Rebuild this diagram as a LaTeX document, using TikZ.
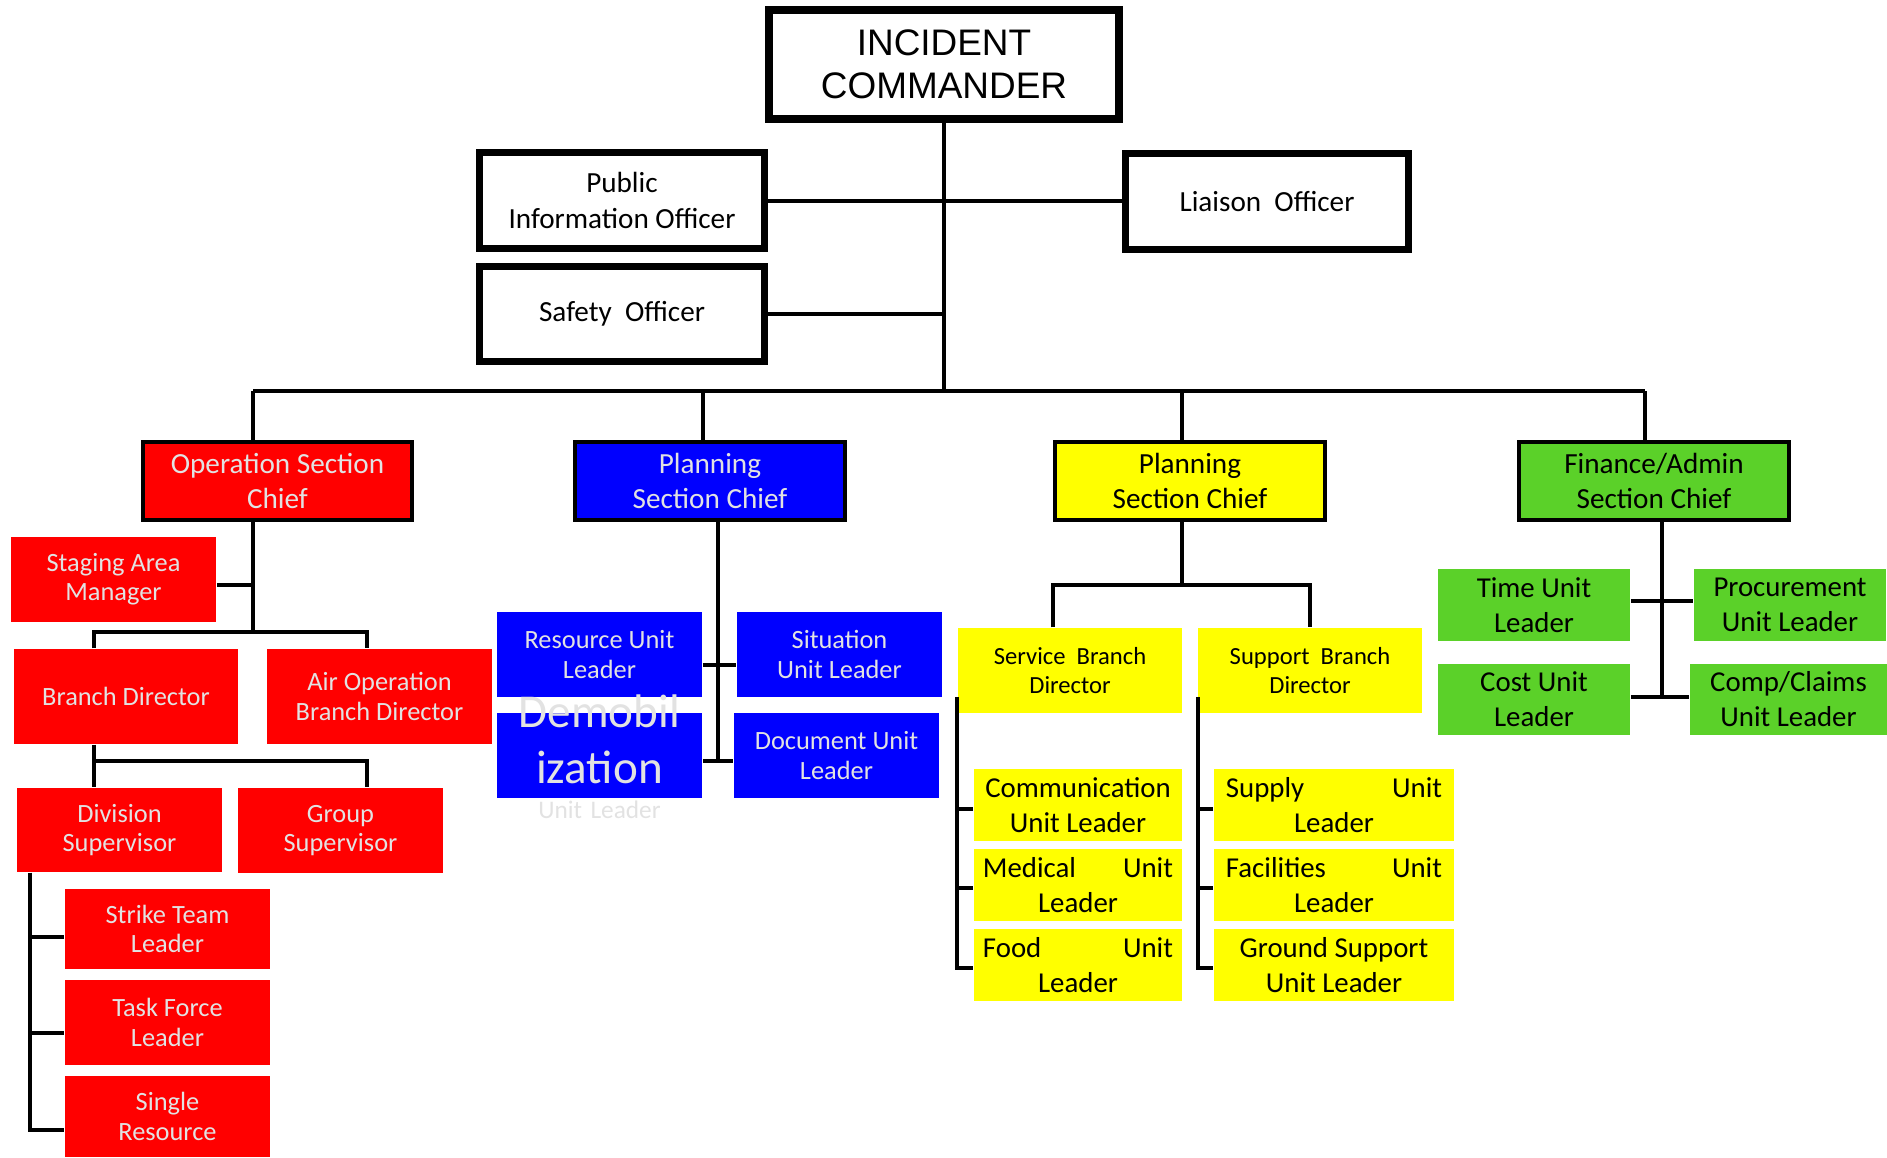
\documentclass[tikz,border=0pt]{standalone}
\usepackage{fontspec}
\setmainfont{Carlito}
\newfontfamily\arialfont{Liberation Sans}
\usetikzlibrary{positioning}

\definecolor{opsred}{RGB}{255,0,0}
\definecolor{planblue}{RGB}{0,0,255}
\definecolor{logyellow}{RGB}{255,255,0}
\definecolor{fingreen}{RGB}{91,209,41}
\definecolor{softgray}{RGB}{226,226,226}

\tikzset{
  officer/.style={draw, line width=0.07cm, inner sep=0pt, align=center, font=\fontsize{8.3}{10}\selectfont},
  chief/.style={draw, line width=0.04cm, minimum width=2.69cm, minimum height=0.78cm, inner sep=0pt, align=center, font=\fontsize{8.3}{10.1}\selectfont},
  unitbox/.style={inner sep=0pt, align=center, font=\fontsize{7.5}{8.3}\selectfont},
  redbox/.style={unitbox, fill=opsred, text=softgray},
  bluebox/.style={unitbox, fill=planblue, text=softgray},
  yellowbox/.style={unitbox, fill=logyellow, font=\fontsize{8.2}{10}\selectfont},
  greenbox/.style={unitbox, fill=fingreen, font=\fontsize{8.2}{10}\selectfont},
  wire/.style={line width=0.04cm},
}

\begin{document}
\begin{tikzpicture}[x=0.01cm, y=-0.01cm]
    \useasboundingbox (0,0) rectangle (1887,1157);

    % Command staff
    \node[draw, line width=0.08cm, minimum width=3.50cm, minimum height=1.09cm, align=center,
          font=\arialfont\fontsize{10.5}{12.2}\selectfont] (ic) at (944,64.5) {INCIDENT\\COMMANDER};
    \node[officer, minimum width=2.85cm, minimum height=0.96cm] (pio) at (622,200.5) {Public\\Information Officer};
    \node[officer, minimum width=2.83cm, minimum height=0.96cm] (liaison) at (1267,201.5) {Liaison\ \ Officer};
    \node[officer, minimum width=2.85cm, minimum height=0.95cm] (safety) at (622,314) {Safety\ \ Officer};

    % Section chiefs
    \node[chief, fill=opsred, text=softgray] (ops) at (277.5,481) {Operation Section\\Chief};
    \node[chief, fill=planblue, text=softgray] (plan) at (710,481) {Planning\\Section Chief};
    \node[chief, fill=logyellow] (logi) at (1190,481) {Planning\\Section Chief};
    \node[chief, fill=fingreen] (fin) at (1654,481) {Finance/Admin\\Section Chief};

    % Operations
    \node[redbox, minimum width=2.05cm, minimum height=0.85cm] (stage) at (113.5,579.5) {Staging Area\\Manager};
    \node[redbox, minimum width=2.24cm, minimum height=0.95cm] (branch) at (126,696.5) {Branch Director};
    \node[redbox, minimum width=2.25cm, minimum height=0.95cm] (air) at (379.5,696.5) {Air Operation\\Branch Director};
    \node[redbox, minimum width=2.05cm, minimum height=0.84cm] (div) at (119.5,830) {Division\\Supervisor};
    \node[redbox, minimum width=2.05cm, minimum height=0.85cm] (group) at (340.5,830.5) {Group\\Supervisor};
    \node[redbox, minimum width=2.05cm, minimum height=0.80cm] (strike) at (167.5,929) {Strike Team\\Leader};
    \node[redbox, minimum width=2.05cm, minimum height=0.85cm] (task) at (167.5,1022.5) {Task Force\\Leader};
    \node[redbox, minimum width=2.05cm, minimum height=0.81cm] (single) at (167.5,1116.5) {Single\\Resource};

    % Planning
    \node[bluebox, minimum width=2.05cm, minimum height=0.85cm] (res) at (599.5,654.5) {Resource Unit\\Leader};
    \node[bluebox, minimum width=2.05cm, minimum height=0.85cm, font=\fontsize{7.5}{8.7}\selectfont] (sit) at (839.5,654.5) {Situation\\Unit Leader};
    \node[bluebox, minimum width=2.05cm, minimum height=0.85cm] (demob) at (599.5,755.5) {};
    \node[bluebox, minimum width=2.05cm, minimum height=0.85cm] (doc) at (836.5,755.5) {Document Unit\\Leader};

    % Logistics
    \node[yellowbox, minimum width=2.24cm, minimum height=0.85cm, font=\fontsize{7}{8}\selectfont] (svc) at (1070,670.5) {Service\ \ Branch\\Director};
    \node[yellowbox, minimum width=2.24cm, minimum height=0.85cm, font=\fontsize{7}{8}\selectfont] (sup) at (1310,670.5) {Support\ \ Branch\\Director};
    \node[yellowbox, minimum width=2.08cm, minimum height=0.72cm] (comm) at (1078,805) {Communication\\Unit Leader};
    \node[yellowbox, minimum width=2.08cm, minimum height=0.72cm, text width=1.90cm] (med) at (1078,885) {Medical\hfill Unit\\Leader};
    \node[yellowbox, minimum width=2.08cm, minimum height=0.72cm, text width=1.90cm] (food) at (1078,965) {Food\hfill Unit\\Leader};
    \node[yellowbox, minimum width=2.40cm, minimum height=0.72cm, text width=2.16cm] (supply) at (1334,805) {Supply\hfill Unit\\Leader};
    \node[yellowbox, minimum width=2.40cm, minimum height=0.72cm, text width=2.16cm] (facil) at (1334,885) {Facilities\hfill Unit\\Leader};
    \node[yellowbox, minimum width=2.40cm, minimum height=0.72cm] (ground) at (1334,965) {Ground Support\\Unit Leader};

    % Finance
    \node[greenbox, minimum width=1.92cm, minimum height=0.72cm] (time) at (1534,605) {Time Unit\\Leader};
    \node[greenbox, minimum width=1.92cm, minimum height=0.72cm] (proc) at (1790,605) {Procurement\\Unit Leader};
    \node[greenbox, minimum width=1.92cm, minimum height=0.71cm] (cost) at (1534,699.5) {Cost Unit\\Leader};
    \node[greenbox, minimum width=1.97cm, minimum height=0.71cm] (comp) at (1788.5,699.5) {Comp/Claims\\Unit Leader};

    % Bus and junctions
    \coordinate (busL) at (253,391);
    \coordinate (busP) at (703,391);
    \coordinate (busG) at (1182,391);
    \coordinate (busR) at (1645,391);
    \coordinate (opsbar) at (253,632);
    \coordinate (brL) at (94,632);
    \coordinate (brR) at (367,632);
    \coordinate (divL) at (94,761);
    \coordinate (divR) at (367,761);
    \coordinate (spine) at (30,872);
    \coordinate (plspine) at (718,761);
    \coordinate (lgbar) at (1182,585);
    \coordinate (sbL) at (1053,585);
    \coordinate (sbR) at (1310,585);
    \coordinate (svspine) at (957,697);
    \coordinate (spspine) at (1198,697);
    \coordinate (finspine) at (1662,697);

    % Command lines
    \draw[wire] (ic.south) -- (ic.south |- busL);
    \draw[wire] (pio.east) -- (pio.east -| liaison.west);
    \draw[wire] (safety.east) -- (safety.east -| ic.south);
    \draw[wire] (busL) -- (busR);
    \draw[wire] (busL) -- (busL |- ops.north);
    \draw[wire] (busP) -- (busP |- plan.north);
    \draw[wire] (busG) -- (busG |- logi.north);
    \draw[wire] (busR) -- (busR |- fin.north);

    % Operations lines
    \draw[wire] (opsbar |- ops.south) -- (opsbar);
    \draw[wire] ([yshift=-0.055cm]stage.east) -- ([yshift=-0.055cm]stage.east -| opsbar);
    \draw[wire] (brL |- branch.north) -- (brL) -- (brR) -- (brR |- air.north);
    \draw[wire] (divL |- branch.south) -- (divL) -- (divR) -- (divR |- group.north);
    \draw[wire] (divL) -- (divL |- div.north);
    \draw[wire] (spine |- div.south) |- ([yshift=-0.13cm]single.west);
    \draw[wire] ([yshift=-0.08cm]strike.west) -- ([yshift=-0.08cm]strike.west -| spine);
    \draw[wire] ([yshift=-0.105cm]task.west) -- ([yshift=-0.105cm]task.west -| spine);

    % Planning lines
    \draw[wire] (plspine |- plan.south) -- (plspine);
    \draw[wire] ([yshift=-0.1cm]res.east) -- ([yshift=-0.1cm]sit.west);
    \draw[wire] ([yshift=-0.055cm]demob.east) -- ([yshift=-0.055cm]doc.west);

    % Logistics lines
    \draw[wire] (lgbar |- logi.south) -- (lgbar);
    \draw[wire] (sbL |- svc.north) -- (sbL) -- (sbR) -- (sbR |- sup.north);
    \draw[wire] (svspine) |- ([yshift=-0.03cm]food.west);
    \draw[wire] ([yshift=-0.04cm]comm.west) -- ([yshift=-0.04cm]comm.west -| svspine);
    \draw[wire] ([yshift=-0.03cm]med.west) -- ([yshift=-0.03cm]med.west -| svspine);
    \draw[wire] (spspine) |- ([yshift=-0.03cm]ground.west);
    \draw[wire] ([yshift=-0.04cm]supply.west) -- ([yshift=-0.04cm]supply.west -| spspine);
    \draw[wire] ([yshift=-0.03cm]facil.west) -- ([yshift=-0.03cm]facil.west -| spspine);

    % Finance lines
    \draw[wire] (finspine |- fin.south) -- (finspine);
    \draw[wire] ([yshift=0.04cm]time.east) -- ([yshift=0.04cm]proc.west);
    \draw[wire] ([yshift=0.025cm]cost.east) -- ([yshift=0.025cm]comp.west);

    % Overflowing label
    \node[anchor=base, inner sep=0pt, text width=3cm, align=center, text=softgray,
          font=\fontsize{13.4}{16}\selectfont] (demobtxt) at (599.5,727)
          {Demobil\\ization\\[-6pt]{\fontsize{7.2}{8}\selectfont\spaceskip=0pt\xspaceskip=0pt Unit Leader}};
\end{tikzpicture}
\end{document}
